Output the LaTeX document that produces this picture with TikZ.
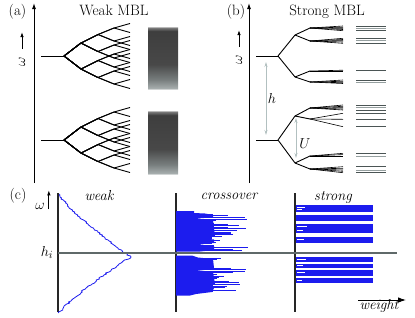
\documentclass[tikz,border=0pt]{standalone}
\usepackage{fontspec}
\usepackage{tikz}
\usetikzlibrary{arrows.meta}
\definecolor{histblue}{RGB}{28,28,238}
\definecolor{levdark}{RGB}{75,85,85}
\definecolor{levlight}{RGB}{150,160,160}
\definecolor{gapgray}{RGB}{178,192,192}
\definecolor{cutgray}{RGB}{95,105,105}
\definecolor{barA}{RGB}{165,172,172}
\definecolor{barB}{RGB}{120,126,126}
\definecolor{barC}{RGB}{72,72,72}
\definecolor{barD}{RGB}{62,62,62}
\definecolor{barE}{RGB}{120,120,120}
\pgfdeclareverticalshading{mblbar}{100bp}{color(0bp)=(white); color(25bp)=(white); color(26.5bp)=(barA); color(33bp)=(barB); color(45bp)=(barC); color(71bp)=(barD); color(73.5bp)=(barE); color(75bp)=(white); color(100bp)=(white)}

\begin{document}
\begin{tikzpicture}[x=1pt, y=-1pt, line join=round,
  lab/.style={font=\fontsize{15}{18}\selectfont, inner sep=0pt},
  itlab/.style={font=\fontsize{14.5}{17}\selectfont\itshape, inner sep=0pt},
  axis/.style={line width=1pt, -{Latex[length=6pt,width=4pt]}},
  omarrow/.style={line width=0.8pt, -{Latex[length=5pt,width=3.5pt]}},
  tree/.style={line width=0.9pt},
  gap/.style={gapgray, line width=0.8pt, {Stealth[length=5pt,width=3pt]}-{Stealth[length=5pt,width=3pt]}},
  histline/.style={histblue, line width=1pt}]
	\useasboundingbox (0,0) rectangle (415,317);
	\pgfmathsetseed{11}
	\draw[axis] (34,183) -- (34,3);
	\node[lab, anchor=base] (la) at (17.5,15.5) {(a)};
	\node[lab, anchor=base] (ta) at (114,15) {Weak MBL};
	\node[lab, rotate=90] (oma) at (22,62) {$\omega$};
	\draw[omarrow] ([yshift=8pt]oma.east) -- ++(0,-17);
	\foreach \ry in {56,140} {
		\draw[tree] (41,\ry) -- (64,\ry);
		\foreach \a in {-1,1} \foreach \b in {-1,1} \foreach \c in {-1,1} \foreach \d in {-1,1}
			\draw[tree] (64,\ry) -- (81,{\ry+13*\a}) -- (98,{\ry+13*\a+8.5*\b}) -- (114,{\ry+13*\a+8.5*\b+6.5*\c}) -- (130,{\ry+13*\a+8.5*\b+6.5*\c+4.5*\d});
	}
	\shade[shading=mblbar] (148,26) rectangle (178,90);
	\shade[shading=mblbar] (148,110) rectangle (178,175);

	\draw[axis] (249,183) -- (249,3);
	\node[lab, anchor=base] (lb) at (236,15.5) {(b)};
	\node[lab, anchor=base] (tb) at (327,15) {Strong MBL};
	\node[lab, rotate=90] (omb) at (239,60) {$\omega$};
	\draw[omarrow] ([yshift=8pt]omb.east) -- ++(0,-17);
	\foreach \ry/\ua/\da in {56/-21/21, 140/-24/23} {
		\draw[tree] (256,\ry) -- (278,\ry);
		\draw[tree] (295,{\ry+\ua}) -- (278,\ry) -- (295,{\ry+\da});
	}
	\foreach \ny/\fy/\ends in {35/28/{26,27.2,28.3,29.5,30.7}, 35/41/{38.3,39.5,40.7,42,43.3}, 77/71/{70.2,71}, 77/82/{80,81.3,82.7,83.5},
		116/108/{105,106.3,107.7,109,110}, 116/119/{113.3,119.3,126.7}, 163/156/{153.3,154.6,156}, 163/169/{166.7,168.3,170,171.3,172.7}} {
		\draw[tree] (295,\ny) -- (310,\fy);
		\foreach \e in \ends {\draw[tree, line width=0.6pt] (310,\fy) -- (343,\e);}
	}
	\foreach \lv/\lc in {26/levdark, 28.3/levlight, 30.7/levdark, 38.3/levdark, 40.7/levlight, 43.3/levdark, 70.7/levdark, 80/levdark, 82.7/levlight,
		105/levdark, 107.7/levlight, 110/levdark, 113.3/levdark, 119.3/levdark, 126.7/levdark, 153.3/levdark, 156/levlight, 166.7/levdark, 170/levlight, 172.7/levdark}
		\draw[\lc, line width=0.9pt] (356,\lv) -- (386,\lv);
	\coordinate (ht) at (266,56);
	\coordinate (hb) at (266,140);
	\draw[gap, shorten <=6pt, shorten >=5pt] (ht) -- (hb);
	\node[lab, anchor=base] (hl) at (272,103) {$h$};
	\coordinate (ut) at (296,116);
	\coordinate (ub) at (296,163);
	\draw[gap, shorten <=2pt, shorten >=5pt] (ut) -- (ub);
	\node[lab, anchor=base] (ul) at (305,148) {$U$};

	\node[lab, anchor=base] (lc) at (18,199) {(c)};
	\node[lab] (omc) at (40,206) {$\omega$};
	\draw[omarrow] ([xshift=4pt]omc.south east) -- ++(0,-19);
	\foreach \ax in {58,176,295} {\draw[line width=1.2pt, black!85] (\ax,193) -- (\ax,312);}
	\node[itlab, anchor=base] (tw) at (99,200) {weak};
	\node[itlab, anchor=base] (tc) at (229,199) {crossover};
	\node[itlab, anchor=base] (ts) at (333,200) {strong};
	\draw[histblue, line width=0.8pt] plot[domain=194:313, samples=120] ({58.5+72*max(0,1-max((257-\x)/63,(\x-257)/57))^1.2+3*rnd-1.5}, \x);
	\fill[histblue] (176,211) -- (194,211) -- (194,213) -- (205,213.5) -- (213,215) -- (213,217.5) -- (195,218.5) -- (213,220) -- (215,236) -- (196,237.5) -- (214,239.5)
		-- (214,243) -- (198,244.5) -- (214,246) -- (214,250) -- (200,251.5) -- (176,251.5) -- cycle;
	\fill[histblue] (176,255.5) -- (192,255.5) -- (198,257.5) -- (213,259) -- (214,268) -- (196,270) -- (213,272) -- (215,284) -- (197,286.5) -- (214,288)
		-- (212,292) -- (196,294) -- (190,295.5) -- (176,295.5) -- cycle;
	\foreach \yy in {214,215.3,...,250.5} {\draw[histline] (176,\yy) -- ++({36+38*rnd*(rnd<0.7)},0);}
	\foreach \yy in {258,259.3,...,292} {\draw[histline] (176,\yy) -- ++({36+38*rnd*(rnd<0.7)},0);}
	\foreach \ya/\yb in {205/212, 215/221, 224/233, 237/243, 257/262, 264/268, 270/276, 278/283} {\fill[histblue] (296,\ya) rectangle (373,\yb);}
	\foreach \ws/\wl in {207/8, 209.5/5, 226/10, 230/6, 239/7, 259/9, 265.5/6, 272/8, 280/5} {\draw[white, line width=0.6pt] (297,\ws) -- ++(\wl,0);}
	\draw[cutgray, line width=1.8pt] (58,253) -- (397,253);
	\node[lab, anchor=base] (hi) at (47,256) {$h_i$};
	\coordinate (wl) at (358,300);
	\coordinate (wr) at (406,300);
	\draw[line width=0.9pt, -{Latex[length=8pt,width=5.5pt]}] (wl) -- (wr);
	\node[itlab, anchor=base] (wt) at (379,309.5) {weight};
\end{tikzpicture}
\end{document}
